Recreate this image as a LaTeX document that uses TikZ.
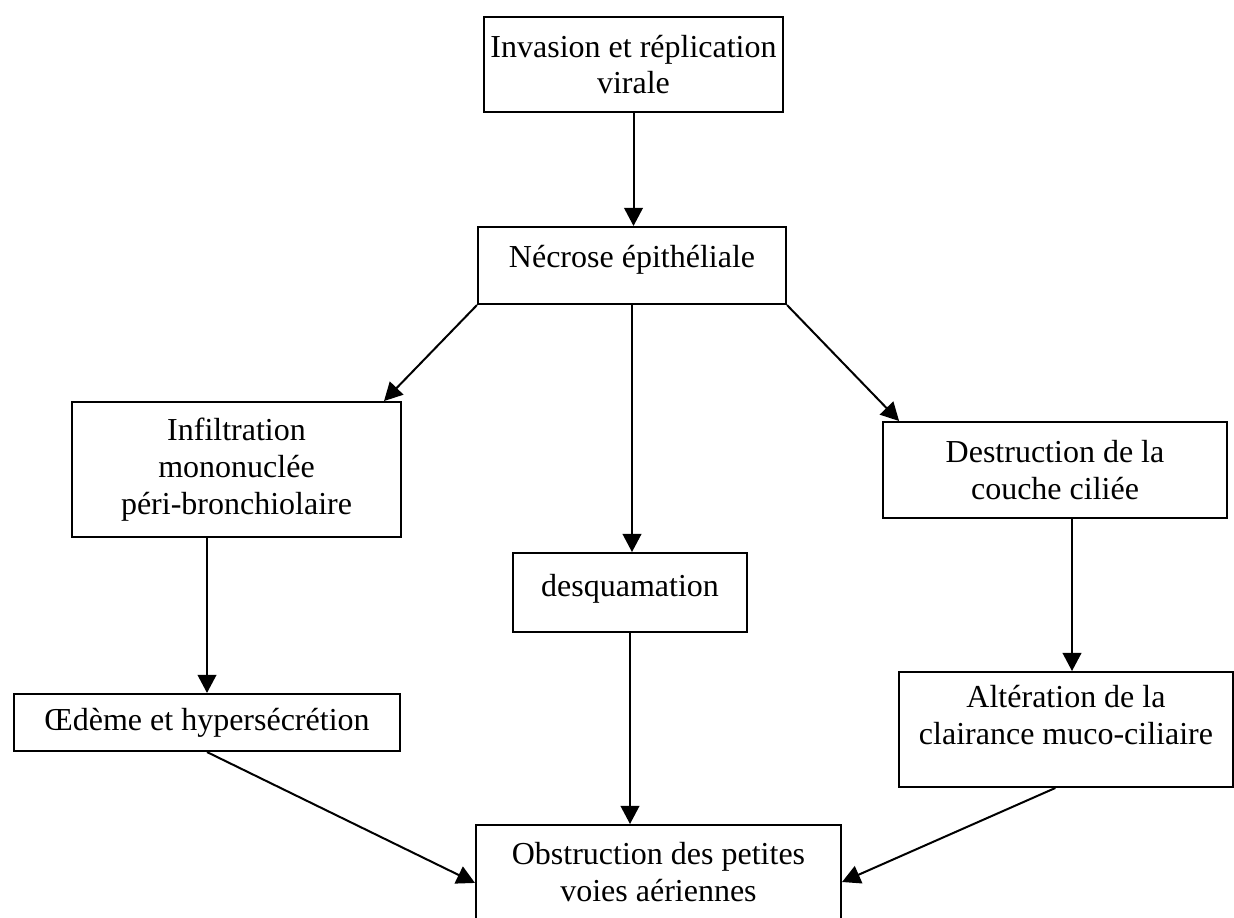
\documentclass[tikz,border=0pt]{standalone}
\usepackage{fontspec}
\setmainfont{Liberation Serif}
\usetikzlibrary{arrows.meta,calc}

\tikzset{
  box/.style={draw, line width=0.75pt, align=center, inner sep=0pt, font=\fontsize{12}{13.8}\selectfont},
  arr/.style={line width=0.75pt, -{Triangle[length=6.8pt,width=7pt]}}
}

\begin{document}
\begin{tikzpicture}[x=0.375pt,y=-0.375pt]

\useasboundingbox (0,0) rectangle (1234,917);

\node[box, minimum width=112.1pt, minimum height=35.6pt] (b1) at (633.5,64.5) {Invasion et réplication\\virale};
\node[box, minimum width=115.5pt, minimum height=28.9pt, text depth=7.1pt] (b2) at (632,265.5) {Nécrose épithéliale};

\node[box, minimum width=123.4pt, minimum height=50.6pt] (b3) at (236.5,469.5) {Infiltration\\mononuclée\\péri-bronchiolaire};
\node[box, minimum width=87.75pt, minimum height=29.6pt, text depth=5.6pt] (b4) at (630,592.5) {desquamation};
\node[box, minimum width=129pt, minimum height=36pt] (b5) at (1055,470) {Destruction de la\\couche ciliée};

\node[box, minimum width=144.75pt, minimum height=21.4pt] (b6) at (207,722.5) {Œdème et hypersécrétion};
\node[box, minimum width=125.25pt, minimum height=43.1pt, text depth=11pt] (b7) at (1066,729.5) {Altération de la\\clairance muco-ciliaire};

\node[box, minimum width=136.9pt, minimum height=35.25pt] (b8) at (658.5,872) {Obstruction des petites\\voies aériennes};

\coordinate (g1) at ([xshift=2.25pt]b7.north);

\draw[arr] (b1.south) -- (b1.south |- b2.north);
\draw[arr] (b2.south west) -- ([xshift=-6.75pt]b3.north east);
\draw[arr] (b2.south) -- (b2.south |- b4.north);
\draw[arr] (b2.south east) -- ([xshift=6.4pt]b5.north west);

\draw[arr] (b6.north |- b3.south) -- (b6.north);
\draw[arr] (g1 |- b5.south) -- (g1);

\draw[arr] (b4.south) -- (b4.south |- b8.north);
\draw[arr] (b6.south) -- ([yshift=-4.1pt]b8.west);
\draw[arr] ([xshift=-4pt]b7.south) -- ([yshift=-3.75pt]b8.east);

\end{tikzpicture}
\end{document}
